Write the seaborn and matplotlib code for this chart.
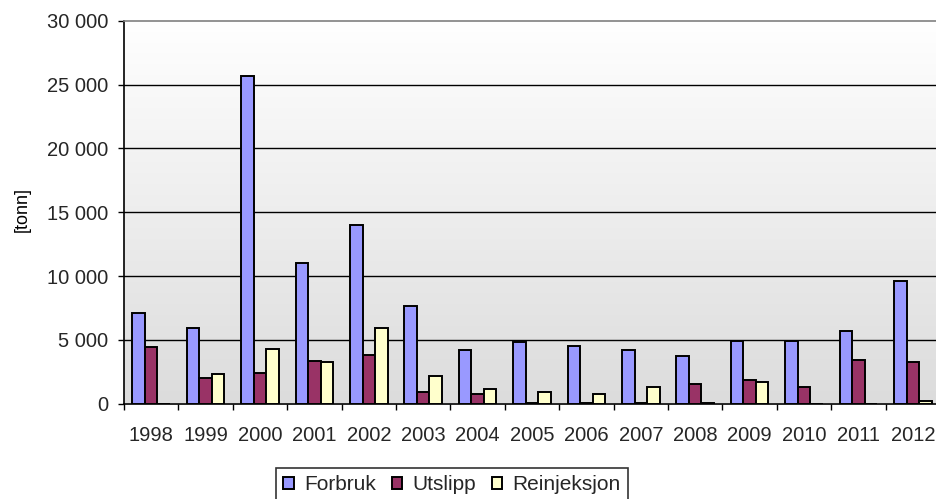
import numpy as np
import pandas as pd
import matplotlib
matplotlib.use("Agg")
import matplotlib.pyplot as plt
from matplotlib.colors import LinearSegmentedColormap
from matplotlib.patches import Patch
from matplotlib.ticker import FixedLocator, FuncFormatter
import seaborn as sns

years = ["1998", "1999", "2000", "2001", "2002", "2003", "2004", "2005",
         "2006", "2007", "2008", "2009", "2010", "2011", "2012"]
forbruk = [7100, 5950, 25700, 11050, 14000, 7680, 4200, 4850,
           4510, 4175, 3700, 4900, 4880, 5670, 9620]
utslipp = [4430, 1980, 2370, 3360, 3810, 900, 770, 60,
           30, 30, 1530, 1820, 1270, 3420, 3280]
reinjeksjon = [0, 2290, 4250, 3230, 5900, 2135, 1115, 880,
               720, 1270, 30, 1710, 0, 0, 200]
series_names = ["Forbruk", "Utslipp", "Reinjeksjon"]
colors = ["#9999FF", "#993366", "#FFFFCC"]

df = pd.DataFrame({
    "year": years * 3,
    "series": np.repeat(series_names, len(years)),
    "value": forbruk + utslipp + reinjeksjon,
})

sns.set_style("white")
plt.rcParams["font.family"] = ["Liberation Sans", "DejaVu Sans"]

W, H = 937, 499
fig = plt.figure(figsize=(W / 100, H / 100), dpi=100)
ax = fig.add_axes([124 / W, (H - 403.5) / H, (940 - 124) / W, (403.5 - 21) / H])

# vertical gradient behind the plot area: white at the top, light grey at the bottom
grad = np.linspace(0, 1, 256).reshape(-1, 1)
cmap = LinearSegmentedColormap.from_list("bg", ["#FFFFFF", "#DCDCDC"])
ax.imshow(grad, cmap=cmap, aspect="auto", extent=[0, 1, 0, 1], origin="upper",
          transform=ax.transAxes, zorder=0, interpolation="bilinear")

sns.barplot(data=df, x="year", y="value", hue="series", palette=colors,
            width=0.69, edgecolor="black", linewidth=1.4, saturation=1,
            ax=ax, legend=False, zorder=3)

ax.set_xlim(-0.5, len(years) - 0.5)
ax.set_ylim(0, 30000)

# horizontal gridlines
for v in range(5000, 30000, 5000):
    ax.axhline(v, color="black", linewidth=1.0, zorder=1)

ax.yaxis.set_major_locator(FixedLocator(range(0, 30001, 5000)))
ax.yaxis.set_major_formatter(FuncFormatter(lambda v, p: f"{v:,.0f}".replace(",", " ")))
ax.tick_params(axis="y", which="major", direction="out", length=4, width=1.0,
               color="black", labelsize=14.5, pad=7.5, left=True)
ax.set_xticks(range(len(years)))
ax.set_xticklabels(years)
ax.set_xticks(np.arange(-0.5, len(years), 1.0), minor=True)
ax.tick_params(axis="x", which="major", length=0, labelsize=14.5, pad=16.5)
ax.tick_params(axis="x", which="minor", direction="out", length=4.5, width=1.0,
               color="black", bottom=True)

ax.set_xlabel("")
ax.set_ylabel("")
for side in ["left", "bottom"]:
    ax.spines[side].set_color("black")
    ax.spines[side].set_linewidth(1.2)
ax.spines["top"].set_color("#808080")
ax.spines["top"].set_linewidth(1.2)
ax.spines["right"].set_visible(False)

fig.text(22 / W, 1 - 209 / H, "[tonn]", rotation=90, ha="center", va="center",
         fontsize=13, color="black")

handles = [Patch(facecolor=c, edgecolor="black", linewidth=1.4) for c in colors]
leg = fig.legend(handles, series_names, loc="upper center", ncol=3,
                 bbox_to_anchor=(452 / W, 1 - 468 / H), fontsize=15,
                 frameon=True, fancybox=False, edgecolor="black",
                 handlelength=0.5, handleheight=0.5, handletextpad=0.5,
                 columnspacing=0.75, borderpad=0.35, borderaxespad=0)
leg.get_frame().set_linewidth(1.2)

fig.savefig("out.png", dpi=100)
